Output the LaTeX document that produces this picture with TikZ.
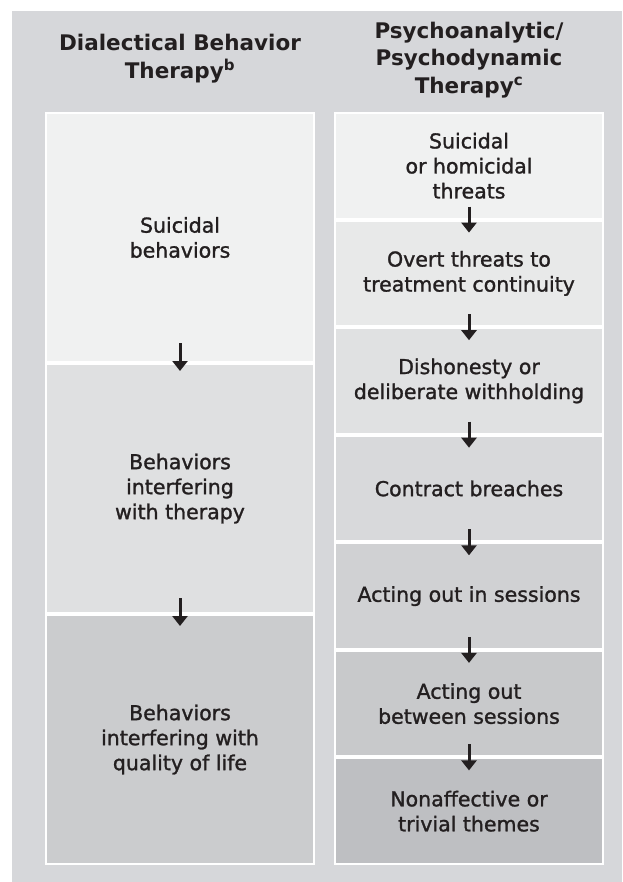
\documentclass[tikz,border=0pt]{standalone}
\usepackage{fontspec}
\setmainfont{DejaVu Sans}
\newfontfamily\bodyfont{DejaVu Sans}[BoldFont={DejaVu Sans}, BoldFeatures={FakeBold=1.3}]
\usetikzlibrary{arrows.meta}

\definecolor{panelgray}{HTML}{D6D7DA}
\definecolor{inkblack}{HTML}{231F20}
\definecolor{lone}{HTML}{F0F1F1}
\definecolor{ltwo}{HTML}{DFE0E1}
\definecolor{lthree}{HTML}{CBCCCE}
\definecolor{rone}{HTML}{F0F1F1}
\definecolor{rtwo}{HTML}{E8E9E9}
\definecolor{rthree}{HTML}{E0E1E2}
\definecolor{rfour}{HTML}{D8D9DB}
\definecolor{rfive}{HTML}{D0D1D3}
\definecolor{rsix}{HTML}{C8C9CB}
\definecolor{rseven}{HTML}{BEBFC2}

\tikzset{
  header/.style={align=center, text=inkblack, font=\fontsize{21.5}{27.5}\selectfont\bfseries},
  leftsec/.style={draw=white, line width=2pt, minimum width=268pt, minimum height=249pt,
    align=center, text=inkblack, font=\fontsize{20.5}{25}\selectfont\bodyfont\bfseries, inner sep=0pt},
  rightsec/.style={leftsec, minimum height=105.6pt},
  flowarrow/.style={draw=inkblack, line width=3pt, -{Triangle[width=15pt,length=10pt]}}
}

\begin{document}
\begin{tikzpicture}[x=1pt,y=-1pt]

				\useasboundingbox (0,0) rectangle (622,882);
				\fill[panelgray] (12,11) rectangle (622,882);

				% Titles
				\node[header] (lhead) at (180,58.5) {Dialectical Behavior\\Therapy\textsuperscript{b}};
				\node[header] (rhead) at (469,60) {Psychoanalytic/\\Psychodynamic\\Therapy\textsuperscript{c}};

				% Left column
				\node[leftsec, fill=lone] (l1) at (180,237.5) {Suicidal\\behaviors};
				\node[leftsec, fill=ltwo] (l2) at (180,488.5) {Behaviors\\interfering\\with therapy};
				\node[leftsec, fill=lthree] (l3) at (180,739.5) {Behaviors\\interfering with\\quality of life};

				% Right column
				\node[rightsec, fill=rone] (r1) at (469,165.8) {Suicidal\\or homicidal\\threats};
				\node[rightsec, fill=rtwo] (r2) at (469,273.4) {Overt threats to\\treatment continuity};
				\node[rightsec, fill=rthree] (r3) at (469,380.9) {Dishonesty or\\deliberate withholding};
				\node[rightsec, fill=rfour] (r4) at (469,488.5) {Contract breaches};
				\node[rightsec, fill=rfive] (r5) at (469,596.1) {Acting out in sessions};
				\node[rightsec, fill=rsix] (r6) at (469,703.6) {Acting out\\between sessions};
				\node[rightsec, fill=rseven] (r7) at (469,811.2) {Nonaffective or\\trivial themes};

				% Arrows
				\draw[flowarrow] ([yshift=20pt]l1.south) -- ([yshift=-8pt]l1.south);
				\draw[flowarrow] ([yshift=16pt]l2.south) -- ([yshift=-12pt]l2.south);
				\foreach \a in {1,...,6}
					\draw[flowarrow] ([yshift=13pt]r\a.south) -- ([yshift=-13pt]r\a.south);

\end{tikzpicture}
\end{document}
